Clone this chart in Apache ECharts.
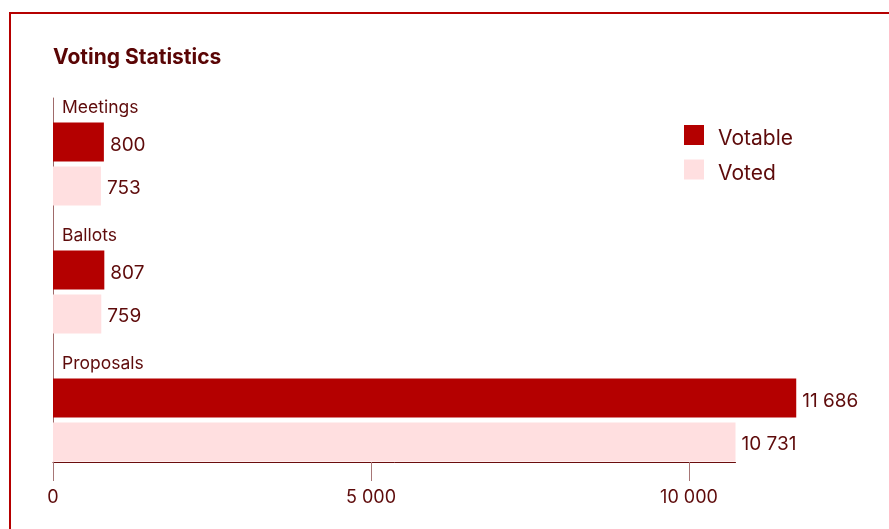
<!DOCTYPE html>
<html>
<head>
<meta charset="utf-8">
<script src="https://cdn.jsdelivr.net/npm/echarts@6/dist/echarts.min.js"></script>
<style>
html,body{margin:0;padding:0;background:#fff;}
#chart{width:889px;height:529px;}
</style>
</head>
<body>
<div id="chart"></div>
<script>
const categories = ['Meetings', 'Ballots', 'Proposals'];
const votable = [800, 807, 11686];
const voted = [753, 759, 10731];
const xTicks = [0, 5000, 10000];
const legendNames = ['Votable', 'Voted'];

const FONT = 'Inter';
const TEXT = '#5e0b0b';
const fmt = v => String(v).replace(/\B(?=(\d{3})+(?!\d))/g, ' ');

const chart = echarts.init(document.getElementById('chart'));
chart.setOption({
  backgroundColor: '#fff',
  animation: false,
  textStyle: { fontFamily: FONT },
  title: {
    text: 'Voting Statistics',
    left: 53, top: 47, padding: 0,
    textStyle: { fontFamily: FONT, fontSize: 21, fontWeight: 'bold', color: '#5a0505' }
  },
  legend: {
    data: legendNames,
    orient: 'vertical',
    left: 684, top: 125, padding: 0,
    itemWidth: 20, itemHeight: 20, itemGap: 10,
    icon: 'rect',
    formatter: name => '{t|' + name + '}',
    textStyle: {
      fontFamily: FONT, fontSize: 21, color: TEXT, padding: [0, 0, 0, 9],
      rich: { t: { fontFamily: FONT, fontSize: 21, color: TEXT, padding: [8, 0, 0, 0] } }
    }
  },
  graphic: [{
    type: 'rect',
    shape: { x: 10, y: 13, width: 1000, height: 1000 },
    style: { fill: 'none', stroke: '#b50000', lineWidth: 2 },
    silent: true
  }],
  grid: [
    { left: 53, top: 78, bottom: 67, right: 889 - 735.5, containLabel: false },
    { left: 53, top: 98, bottom: 68, width: 1 }
  ],
  xAxis: [{
    type: 'value',
    gridIndex: 0,
    min: 0,
    max: Math.max(...voted),
    splitLine: { show: false },
    axisLine: { show: true, lineStyle: { color: '#6a0d0d', width: 1 } },
    axisTick: { show: true, length: 19, customValues: xTicks, lineStyle: { color: '#a77676' } },
    axisLabel: { customValues: xTicks, margin: 27, fontSize: 18, color: TEXT, fontFamily: FONT, formatter: fmt }
  }, {
    type: 'value', gridIndex: 1, show: false
  }],
  yAxis: [{
    type: 'category',
    gridIndex: 0,
    data: categories,
    inverse: true,
    axisLine: { show: false },
    axisTick: { show: false },
    splitLine: { show: false },
    axisLabel: { show: false }
  }, {
    type: 'value', gridIndex: 1,
    axisLine: { show: true, lineStyle: { color: '#a06a6a' } },
    axisTick: { show: false }, axisLabel: { show: false }, splitLine: { show: false }
  }],
  series: [{
    name: 'spacer', type: 'bar', data: categories.map(() => 0),
    barWidth: 39, barGap: '12.8%', silent: true,
    itemStyle: { color: 'rgba(0,0,0,0)' },
    label: { show: true, position: 'right', distance: 9, offset: [0, 10], fontSize: 17.5, color: TEXT, fontFamily: FONT,
      formatter: p => p.name }
  }, {
    name: 'Votable', type: 'bar', data: votable, barWidth: 39, barGap: '12.8%', clip: false,
    itemStyle: { color: '#b40000' },
    label: { show: true, position: 'right', distance: 6, offset: [0, 3], fontSize: 19, color: TEXT, fontFamily: FONT,
      formatter: p => fmt(p.value) }
  }, {
    name: 'Voted', type: 'bar', data: voted, barWidth: 39, barGap: '12.8%', clip: false,
    itemStyle: { color: '#ffdfe0' },
    label: { show: true, position: 'right', distance: 6, offset: [0, 2], fontSize: 19, color: TEXT, fontFamily: FONT,
      formatter: p => fmt(p.value) }
  }]
});
</script>
</body>
</html>
